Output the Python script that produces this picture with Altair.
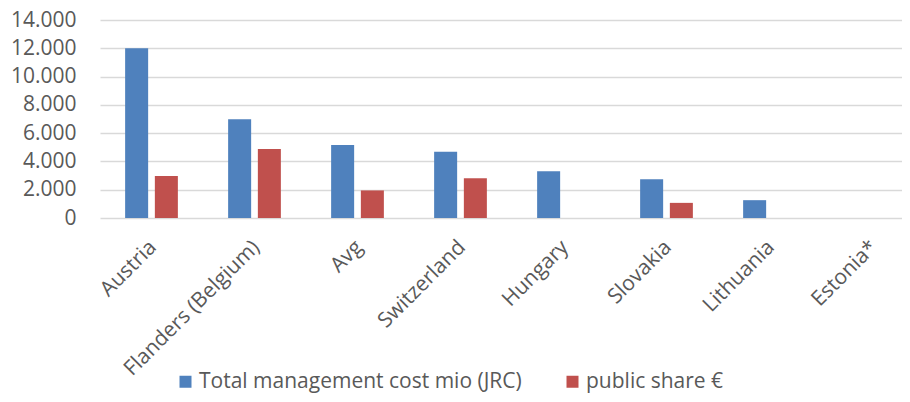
import altair as alt
import pandas as pd

categories = ["Austria", "Flanders (Belgium)", "Avg", "Switzerland", "Hungary", "Slovakia", "Lithuania", "Estonia*"]
total_cost = [12000, 6980, 5160, 4680, 3300, 2740, 1260, 0]
public_share = [2970, 4880, 1950, 2810, 0, 1070, 0, 0]
series_names = ["Total management cost mio (JRC)", "public share €"]
colors = ["#4F81BD", "#C0504D"]
y_ticks = [0, 2000, 4000, 6000, 8000, 10000, 12000, 14000]

rows = []
for i, c in enumerate(categories):
    rows.append({"category": c, "series": series_names[0], "value": total_cost[i]})
    rows.append({"category": c, "series": series_names[1], "value": public_share[i]})
df = pd.DataFrame(rows)

FONT = "Open Sans"
TXT = "#595959"

chart = alt.Chart(df).mark_bar().encode(
    x=alt.X("category:N", sort=categories, title=None,
            scale=alt.Scale(range=[0, 824], paddingInner=0.488, paddingOuter=0.244),
            axis=alt.Axis(labelAngle=-45, labelFontSize=21, labelColor=TXT, labelFont=FONT,
                          ticks=False, domain=False, labelPadding=18, labelOffset=-6,
                          grid=False, labelLimit=400)),
    xOffset=alt.XOffset("series:N", sort=series_names,
                        scale=alt.Scale(paddingInner=0.2256, paddingOuter=0)),
    y=alt.Y("value:Q", title=None,
            scale=alt.Scale(domain=[0, 14000], nice=False),
            axis=alt.Axis(values=y_ticks, labelExpr="replace(format(datum.value, ','), ',', '.')",
                          labelFontSize=21, labelColor=TXT, labelFont=FONT,
                          ticks=False, domain=False, labelPadding=24,
                          gridColor="#D9D9D9", gridWidth=1.5)),
    color=alt.Color("series:N", sort=series_names,
                    scale=alt.Scale(domain=series_names, range=colors),
                    legend=alt.Legend(title=None, orient="none", direction="horizontal",
                                      legendX=75, legendY=351, symbolType="square",
                                      symbolSize=144, symbolStrokeWidth=0,
                                      labelFontSize=21, labelColor=TXT, labelFont=FONT,
                                      labelLimit=500, columnPadding=40, labelOffset=3)),
).properties(
    width=802, height=198,
    autosize=alt.AutoSizeParams(type="none"),
    padding={"left": 92, "top": 12, "right": 0, "bottom": 175},
).configure_view(stroke=None)

chart.save("out.html", embed_options={"renderer": "svg", "actions": False})
